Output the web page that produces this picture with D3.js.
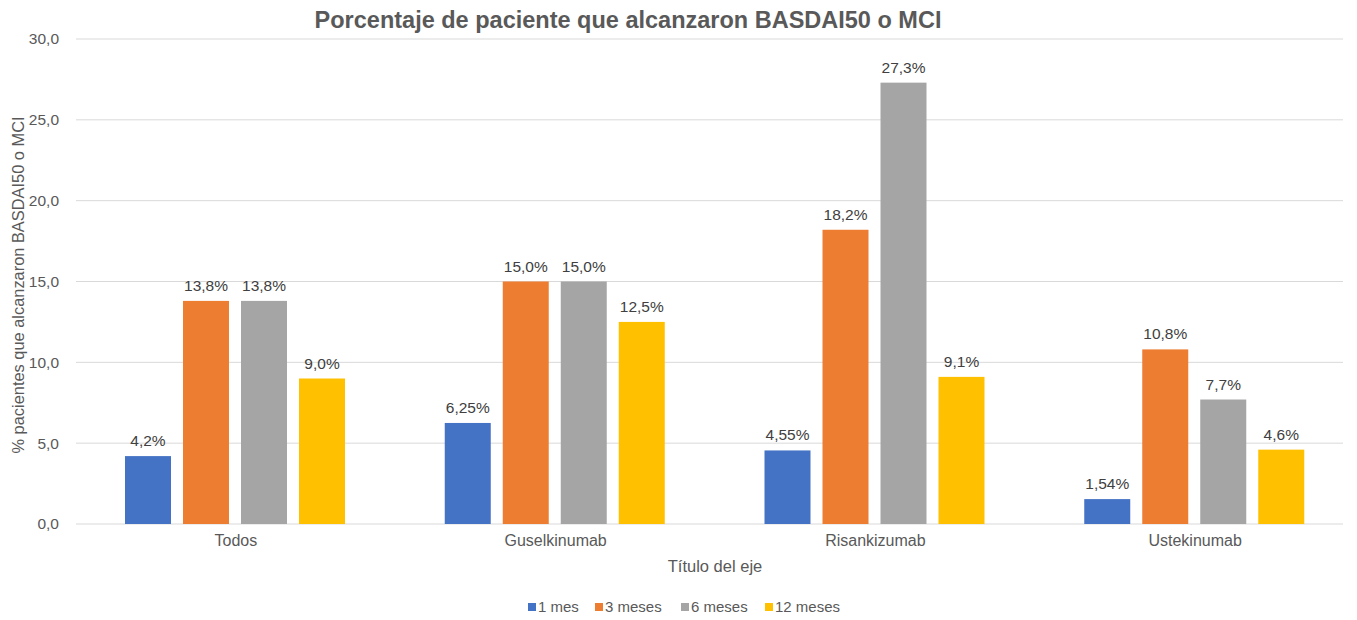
<!DOCTYPE html>
<html>
<head>
<meta charset="utf-8">
<script src="https://cdn.jsdelivr.net/npm/d3@7"></script>
<style>
  body { margin: 0; background: #fff; }
  text { font-family: "Liberation Sans", Arial, sans-serif; }
</style>
</head>
<body>
<div id="chart"></div>
<script>
const categories = ["Todos", "Guselkinumab", "Risankizumab", "Ustekinumab"];
const series = ["1 mes", "3 meses", "6 meses", "12 meses"];
const colors = ["#4472C4", "#ED7D31", "#A5A5A5", "#FFC000"];
// values per series (same order as categories)
const mes1 = [4.2, 6.25, 4.55, 1.54];
const mes3 = [13.8, 15.0, 18.2, 10.8];
const mes6 = [13.8, 15.0, 27.3, 7.7];
const mes12 = [9.0, 12.5, 9.1, 4.6];
const labels1 = ["4,2%", "6,25%", "4,55%", "1,54%"];
const labels3 = ["13,8%", "15,0%", "18,2%", "10,8%"];
const labels6 = ["13,8%", "15,0%", "27,3%", "7,7%"];
const labels12 = ["9,0%", "12,5%", "9,1%", "4,6%"];
const yTicks = [0, 5, 10, 15, 20, 25, 30];

const values = [mes1, mes3, mes6, mes12];
const labelSets = [labels1, labels3, labels6, labels12];

const W = 1357, H = 620;
const plot = { left: 76, right: 1355, top: 39, bottom: 524 };

const svg = d3.select("#chart").append("svg")
  .attr("width", W)
  .attr("height", H);

const x0 = d3.scaleBand()
  .domain(categories)
  .range([plot.left, plot.right])
  .padding(0);

const x1 = d3.scaleBand()
  .domain(series)
  .range([49, 49 + 220])
  .paddingInner(0.207)
  .paddingOuter(0);

const y = d3.scaleLinear()
  .domain([0, 30])
  .range([plot.bottom, plot.top]);

// gridlines
svg.append("g")
  .selectAll("line")
  .data(yTicks)
  .join("line")
  .attr("x1", plot.left)
  .attr("x2", plot.right - 12)
  .attr("y1", d => y(d))
  .attr("y2", d => y(d))
  .style("stroke", "#d9d9d9")
  .style("stroke-width", 1);

// y axis labels
const yAxis = svg.append("g")
  .attr("transform", "translate(" + (plot.left - 14) + ",0)")
  .call(d3.axisLeft(y).tickValues(yTicks).tickSize(0).tickFormat(d => d3.format(".1f")(d).replace(".", ",")));
yAxis.select(".domain").remove();
yAxis.selectAll("text")
  .style("font-size", "15.5px")
  .style("fill", "#595959")
  .style("font-family", "'Liberation Sans', Arial, sans-serif");

// x axis labels
const xAxis = svg.append("g")
  .attr("transform", "translate(0," + plot.bottom + ")")
  .call(d3.axisBottom(x0).tickSize(0).tickPadding(11));
xAxis.select(".domain").remove();
xAxis.selectAll("text")
  .style("font-size", "16px")
  .style("fill", "#595959")
  .style("font-family", "'Liberation Sans', Arial, sans-serif");

// bars
series.forEach((s, si) => {
  const g = svg.append("g");
  g.selectAll("rect")
    .data(values[si])
    .join("rect")
    .attr("x", (d, i) => x0(categories[i]) + x1(s))
    .attr("y", d => y(d))
    .attr("width", x1.bandwidth())
    .attr("height", d => y(0) - y(d))
    .style("fill", colors[si]);
  g.selectAll("text")
    .data(values[si])
    .join("text")
    .attr("x", (d, i) => x0(categories[i]) + x1(s) + x1.bandwidth() / 2)
    .attr("y", d => y(d) - 10)
    .attr("text-anchor", "middle")
    .style("font-size", "15.5px")
    .style("fill", "#404040")
    .text((d, i) => labelSets[si][i]);
});

// title
svg.append("text")
  .attr("x", 628)
  .attr("y", 28)
  .attr("text-anchor", "middle")
  .style("font-size", "23.5px")
  .style("font-weight", "bold")
  .style("fill", "#595959")
  .text("Porcentaje de paciente que alcanzaron BASDAI50 o MCI");

// y axis title
svg.append("text")
  .attr("transform", "translate(24,285) rotate(-90)")
  .attr("text-anchor", "middle")
  .style("font-size", "16.4px")
  .style("fill", "#595959")
  .text("% pacientes que alcanzaron BASDAI50 o MCI");

// x axis title
svg.append("text")
  .attr("x", 715)
  .attr("y", 572)
  .attr("text-anchor", "middle")
  .style("font-size", "16.5px")
  .style("fill", "#595959")
  .text("Título del eje");

// legend
const legendX = [528, 595, 681, 765];
const legend = svg.append("g");
series.forEach((s, si) => {
  legend.append("rect")
    .attr("x", legendX[si])
    .attr("y", 603)
    .attr("width", 8)
    .attr("height", 8)
    .style("fill", colors[si]);
  legend.append("text")
    .attr("x", legendX[si] + 10)
    .attr("y", 612)
    .style("font-size", "15px")
    .style("fill", "#595959")
    .text(s);
});
</script>
</body>
</html>
